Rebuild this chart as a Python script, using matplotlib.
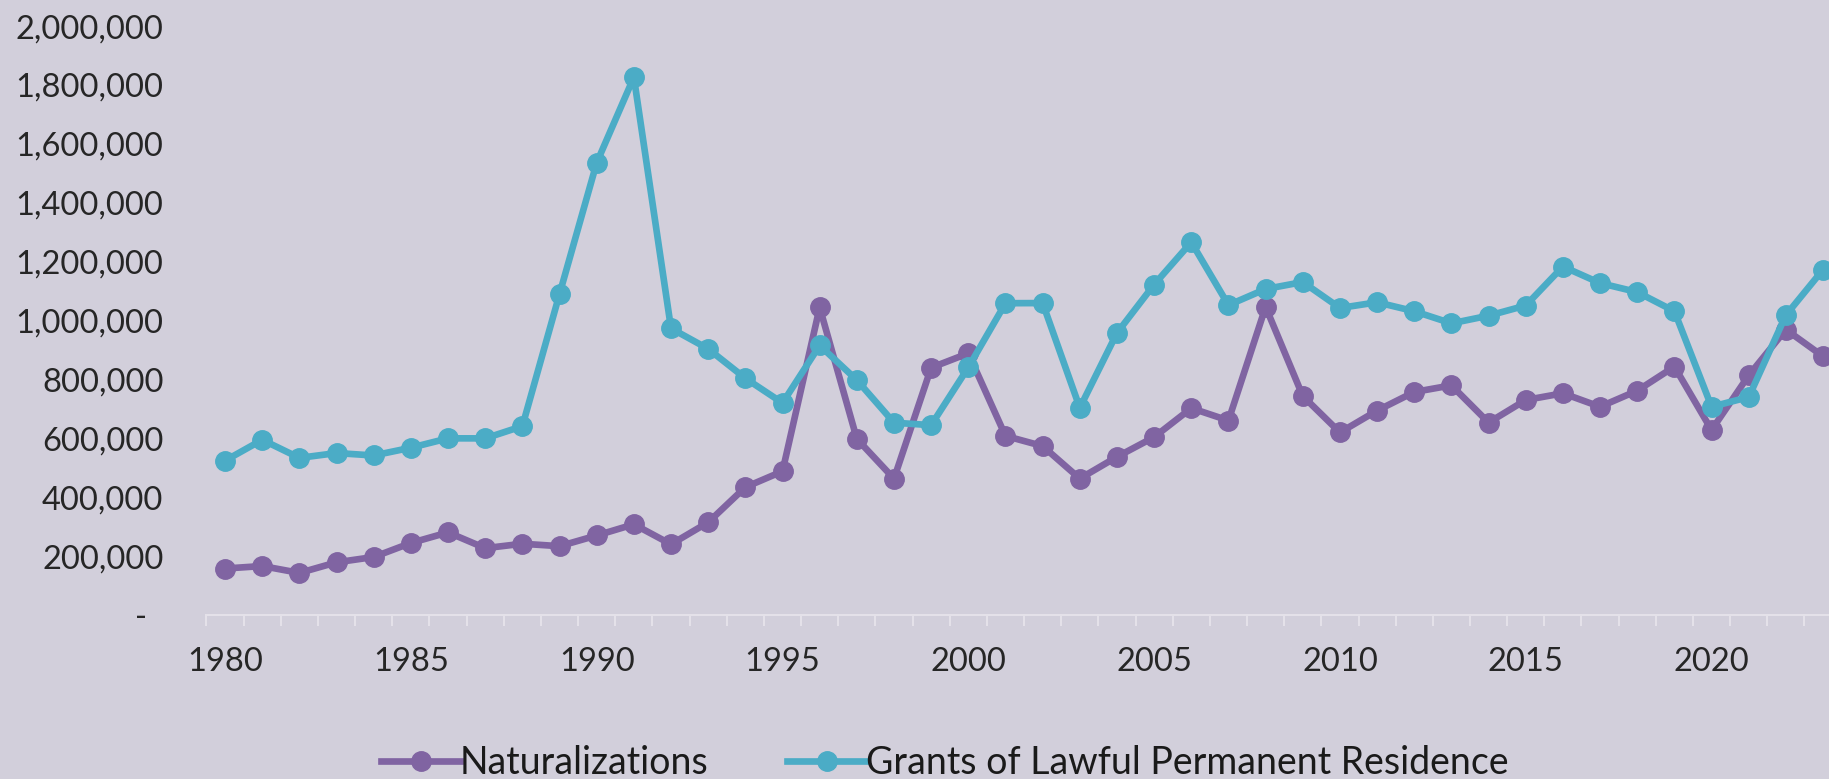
import numpy as np
import matplotlib
matplotlib.use("Agg")
import matplotlib.pyplot as plt
from matplotlib.ticker import FuncFormatter

# data
years = list(range(1980, 2024))

naturalizations = [
    157938, 166317, 143000, 178948, 197023, 244717, 280623, 227008, 242063, 233777,
    270101, 308058, 240252, 314681, 434107, 488088, 1044689, 598225, 463060, 839944,
    888788, 608205, 573708, 463204, 537151, 604280, 702589, 660477, 1046539, 743715,
    619913, 694193, 757434, 779929, 653416, 730259, 753060, 707265, 761901, 843593,
    628254, 813861, 969380, 878500,
]

lpr_grants = [
    524295, 595014, 533624, 550052, 541811, 568149, 600027, 599889, 641346, 1090172,
    1535872, 1826595, 973445, 903916, 803993, 720177, 915560, 797847, 653206, 644787,
    841002, 1058902, 1059356, 703542, 957883, 1122257, 1266129, 1052415, 1107126, 1130818,
    1042625, 1062040, 1031631, 990553, 1016518, 1051031, 1183505, 1127167, 1096611, 1031765,
    707362, 740002, 1018349, 1172910,
]

series_names = ["Naturalizations", "Grants of Lawful Permanent Residence"]
colors = ["#8064A2", "#4BACC6"]

bg = "#D2CFDB"
plt.rcParams['font.family'] = ['Lato', 'DejaVu Sans']

fig = plt.figure(figsize=(18.29, 7.79), dpi=100, facecolor=bg)
ax = fig.add_axes([0.1129, 0.2105, 0.8871, 0.756])
ax.set_facecolor(bg)

for vals, name, c in zip([naturalizations, lpr_grants], series_names, colors):
    ax.plot(years, vals, color=c, lw=4.8, marker="o", markersize=14, label=name,
            solid_joinstyle="round")

# y axis (zero shown as a dash, accounting style)
ax.set_yticks(np.arange(0, 2000001, 200000))
ax.yaxis.set_major_formatter(FuncFormatter(lambda v, p: "-  " if v == 0 else f"{int(v):,}"))
ax.tick_params(axis="y", length=0, pad=31, labelsize=23.5, labelcolor="#262626")

# x axis: labels at year centres, ticks between categories
ax.set_xticks(range(1980, 2024, 5))
ax.set_xticks(np.arange(1979.5, 2023.6, 1), minor=True)
ax.tick_params(axis="x", which="major", length=0, pad=23, labelsize=23.5, labelcolor="#262626")
ax.tick_params(axis="x", which="minor", length=8, width=1.5, color="#E4E1E9")

# limits after ticks so they don't get widened
ax.set_xlim(1979.5, 2023.16)
ax.set_ylim(0, 2000000)

for s in ["top", "right", "left"]:
    ax.spines[s].set_visible(False)
ax.spines["bottom"].set_color("#E4E1E9")
ax.spines["bottom"].set_linewidth(1.5)

fig.legend(loc="center", bbox_to_anchor=(0.5167, 0.0205), ncol=2, frameon=False,
           fontsize=27, handlelength=2.1, handletextpad=0.0, columnspacing=2.1,
           labelcolor="#1a1a1a")

fig.savefig("out.png", dpi=100, facecolor=bg)
